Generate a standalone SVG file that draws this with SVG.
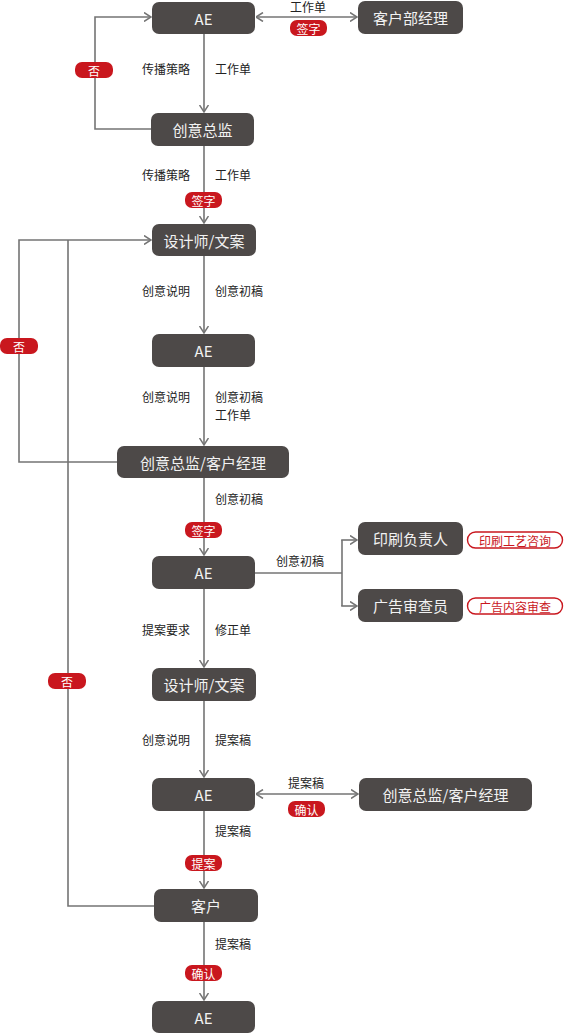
<svg xmlns="http://www.w3.org/2000/svg" width="564" height="1034" viewBox="0 0 564 1034">
<style>
.n{fill:#4d4948}
.nt{font-family:"Noto Sans CJK SC","Noto Sans",sans-serif;font-size:15px;fill:#f2f2f2;text-anchor:middle;dominant-baseline:central}
.c{fill:none;stroke:#747474;stroke-width:1.6}
.l{font-family:"Noto Sans CJK SC",sans-serif;font-size:12px;fill:#222}
.lr{text-anchor:end}
.b{fill:#c9171e}
.bt{font-family:"Noto Sans CJK SC",sans-serif;font-size:12px;fill:#fff;text-anchor:middle;dominant-baseline:central}
.o{fill:#fff;stroke:#c9171e;stroke-width:1.4}
.ot{font-family:"Noto Sans CJK SC",sans-serif;font-size:12px;fill:#c9171e;text-anchor:middle;dominant-baseline:central}
</style>
<defs>
<marker id="a" viewBox="0 0 8 10" refX="7.5" refY="5" markerWidth="8" markerHeight="10" markerUnits="userSpaceOnUse" orient="auto-start-reverse">
<path d="M0.5,0.5 L7.5,5 L0.5,9.5" fill="none" stroke="#747474" stroke-width="1.5"/>
</marker>
</defs>
<g id="connectors">
<line class="c" x1="256" y1="17" x2="357" y2="17" marker-start="url(#a)" marker-end="url(#a)"/>
<polyline class="c" points="151,129 95,129 95,17 151,17" marker-end="url(#a)"/>
<line class="c" x1="204" y1="34" x2="204" y2="112" marker-end="url(#a)"/>
<line class="c" x1="204" y1="146" x2="204" y2="223" marker-end="url(#a)"/>
<line class="c" x1="204" y1="256" x2="204" y2="333" marker-end="url(#a)"/>
<line class="c" x1="204" y1="367" x2="204" y2="445" marker-end="url(#a)"/>
<polyline class="c" points="117,462 19,462 19,240 151,240" marker-end="url(#a)"/>
<polyline class="c" points="154,906 68,906 68,240"/>
<line class="c" x1="204" y1="478" x2="204" y2="555" marker-end="url(#a)"/>
<line class="c" x1="255" y1="573" x2="342" y2="573"/>
<line class="c" x1="342" y1="540" x2="342" y2="606"/>
<line class="c" x1="341.2" y1="540" x2="357" y2="540" marker-end="url(#a)"/>
<line class="c" x1="341.2" y1="606" x2="357" y2="606" marker-end="url(#a)"/>
<line class="c" x1="204" y1="589" x2="204" y2="667" marker-end="url(#a)"/>
<line class="c" x1="204" y1="701" x2="204" y2="777" marker-end="url(#a)"/>
<line class="c" x1="256" y1="794" x2="358" y2="794" marker-start="url(#a)" marker-end="url(#a)"/>
<line class="c" x1="204" y1="811" x2="204" y2="888" marker-end="url(#a)"/>
<line class="c" x1="204" y1="922" x2="204" y2="1000" marker-end="url(#a)"/>
</g>
<g id="labels">
<text class="l" x="308" y="12" text-anchor="middle">工作单</text>
<text class="l lr" x="190" y="74">传播策略</text>
<text class="l" x="215" y="74">工作单</text>
<text class="l lr" x="190" y="180">传播策略</text>
<text class="l" x="215" y="180">工作单</text>
<text class="l lr" x="190" y="296">创意说明</text>
<text class="l" x="215" y="296">创意初稿</text>
<text class="l lr" x="190" y="402">创意说明</text>
<text class="l" x="215" y="402">创意初稿</text>
<text class="l" x="215" y="420">工作单</text>
<text class="l" x="215" y="504">创意初稿</text>
<text class="l" x="300" y="566" text-anchor="middle">创意初稿</text>
<text class="l lr" x="190" y="635">提案要求</text>
<text class="l" x="215" y="635">修正单</text>
<text class="l lr" x="190" y="745">创意说明</text>
<text class="l" x="215" y="745">提案稿</text>
<text class="l" x="306" y="788" text-anchor="middle">提案稿</text>
<text class="l" x="215" y="836">提案稿</text>
<text class="l" x="215" y="949">提案稿</text>
</g>
<g id="badges">
<rect class="b" x="290" y="20" width="37" height="16" rx="7"/><text class="bt" x="308.5" y="28">签字</text>
<rect class="b" x="75" y="62" width="38" height="16" rx="7"/><text class="bt" x="94" y="70">否</text>
<rect class="b" x="185" y="192" width="37" height="16" rx="7"/><text class="bt" x="203.5" y="200">签字</text>
<rect class="b" x="0" y="338" width="38" height="16" rx="7"/><text class="bt" x="19" y="346">否</text>
<rect class="b" x="185" y="522" width="37" height="16" rx="7"/><text class="bt" x="203.5" y="530">签字</text>
<rect class="b" x="48" y="673" width="38" height="16" rx="7"/><text class="bt" x="67" y="681">否</text>
<rect class="b" x="288" y="801" width="37" height="16" rx="7"/><text class="bt" x="306.5" y="809">确认</text>
<rect class="b" x="185" y="855" width="37" height="16" rx="7"/><text class="bt" x="203.5" y="863">提案</text>
<rect class="b" x="185" y="965" width="37" height="16" rx="7"/><text class="bt" x="203.5" y="973">确认</text>
<rect class="o" x="467.5" y="532" width="95" height="16" rx="8"/><text class="ot" x="515" y="540">印刷工艺咨询</text>
<rect class="o" x="467.5" y="598" width="95" height="16" rx="8"/><text class="ot" x="515" y="606">广告内容审查</text>
</g>
<g id="n-ae1"><rect class="n" x="152" y="2" width="103" height="32" rx="7"/><text class="nt" x="203.5" y="18">AE</text></g>
<g id="n-khbjl"><rect class="n" x="358" y="1" width="105" height="33" rx="7"/><text class="nt" x="410.5" y="17.5">客户部经理</text></g>
<g id="n-cyzj"><rect class="n" x="151" y="113" width="103" height="33" rx="7"/><text class="nt" x="202.5" y="129.5">创意总监</text></g>
<g id="n-sjs1"><rect class="n" x="152" y="224" width="104" height="32" rx="7"/><text class="nt" x="204" y="240">设计师/文案</text></g>
<g id="n-ae2"><rect class="n" x="152" y="334" width="103" height="33" rx="7"/><text class="nt" x="203.5" y="350.5">AE</text></g>
<g id="n-cyzjkh1"><rect class="n" x="117" y="446" width="172" height="32" rx="7"/><text class="nt" x="203" y="462">创意总监/客户经理</text></g>
<g id="n-ae3"><rect class="n" x="152" y="556" width="103" height="33" rx="7"/><text class="nt" x="203.5" y="572.5">AE</text></g>
<g id="n-ys"><rect class="n" x="358" y="522" width="105" height="33" rx="7"/><text class="nt" x="410.5" y="538.5">印刷负责人</text></g>
<g id="n-gg"><rect class="n" x="358" y="589" width="105" height="33" rx="7"/><text class="nt" x="410.5" y="605.5">广告审查员</text></g>
<g id="n-sjs2"><rect class="n" x="152" y="668" width="104" height="33" rx="7"/><text class="nt" x="204" y="684.5">设计师/文案</text></g>
<g id="n-ae4"><rect class="n" x="152" y="778" width="103" height="33" rx="7"/><text class="nt" x="203.5" y="794.5">AE</text></g>
<g id="n-cyzjkh2"><rect class="n" x="359" y="778" width="173" height="33" rx="7"/><text class="nt" x="445.5" y="794.5">创意总监/客户经理</text></g>
<g id="n-kh"><rect class="n" x="154" y="889" width="104" height="33" rx="7"/><text class="nt" x="206" y="905.5">客户</text></g>
<g id="n-ae5"><rect class="n" x="152" y="1001" width="103" height="32" rx="7"/><text class="nt" x="203.5" y="1017">AE</text></g>
</svg>
